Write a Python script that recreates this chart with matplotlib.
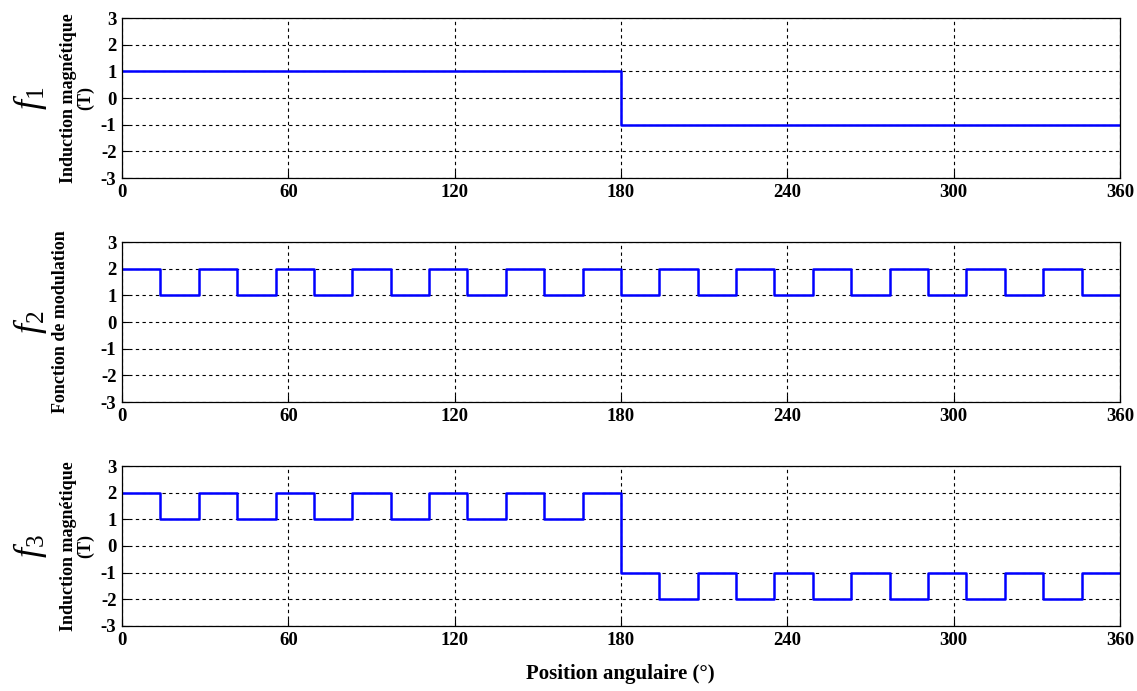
import matplotlib
matplotlib.use('Agg')
import matplotlib.pyplot as plt

# switching angles (deg), 26 intervals over 0..360
edges = [0, 13.85, 27.69, 41.54, 55.38, 69.23, 83.08, 96.92, 110.77, 124.62,
         138.46, 152.31, 166.15, 180, 193.85, 207.69, 221.54, 235.38, 249.23,
         263.08, 276.92, 290.77, 304.62, 318.46, 332.31, 346.15, 360]

# level in each interval
f1 = [1] * 13 + [-1] * 13
f2 = [2, 1, 2, 1, 2, 1, 2, 1, 2, 1, 2, 1, 2,
      1, 2, 1, 2, 1, 2, 1, 2, 1, 2, 1, 2, 1]
f3 = [2, 1, 2, 1, 2, 1, 2, 1, 2, 1, 2, 1, 2,
      -1, -2, -1, -2, -1, -2, -1, -2, -1, -2, -1, -2, -1]

xticks = [0, 60, 120, 180, 240, 300, 360]
yticks = [-3, -2, -1, 0, 1, 2, 3]

panels = [
    (r"$f_{\mathit{1}}$", "Induction magnétique\n(T)", 0.068, f1, 0.7424),
    (r"$f_{2}$", "Fonction de modulation", 0.053, f2, 0.4182),
    (r"$f_{3}$", "Induction magnétique\n(T)", 0.068, f3, 0.0941),
]

plt.rcParams['font.family'] = 'Liberation Serif'
plt.rcParams['mathtext.fontset'] = 'custom'
plt.rcParams['mathtext.it'] = 'Liberation Serif:italic'
plt.rcParams['mathtext.rm'] = 'Liberation Serif'
plt.rcParams['axes.unicode_minus'] = False

fig = plt.figure(figsize=(11.37, 6.91), dpi=100)

for name, ylabel, lx, vals, bottom in panels:
    ax = fig.add_axes([0.1073, bottom, 0.8777, 0.2315])
    ax.step(edges, vals + [vals[-1]], where='post', color='#0000ff', lw=1.8)
    ax.set_xlim(0, 360)
    ax.set_ylim(-3, 3)
    ax.set_xticks(xticks)
    ax.set_yticks(yticks)
    ax.tick_params(direction='in', labelsize=13.5, length=5, pad=4)
    for lab in ax.get_xticklabels() + ax.get_yticklabels():
        lab.set_fontweight('bold')
    ax.grid(True, color='black', linestyle=(0, (3, 3)), linewidth=0.8)
    for s in ax.spines.values():
        s.set_linewidth(0.9)
    yc = bottom + 0.2315 / 2
    fig.text(0.026, yc, name, rotation=90, fontsize=26, ha='center', va='center')
    fig.text(lx, yc, ylabel, rotation=90, fontsize=13, fontweight='bold',
             ha='center', va='center', linespacing=1.0)

fig.text(0.546, 0.025, "Position angulaire (°)", fontsize=15, fontweight='bold',
         ha='center', va='center')

plt.savefig('out.png', dpi=100)
plt.close()
